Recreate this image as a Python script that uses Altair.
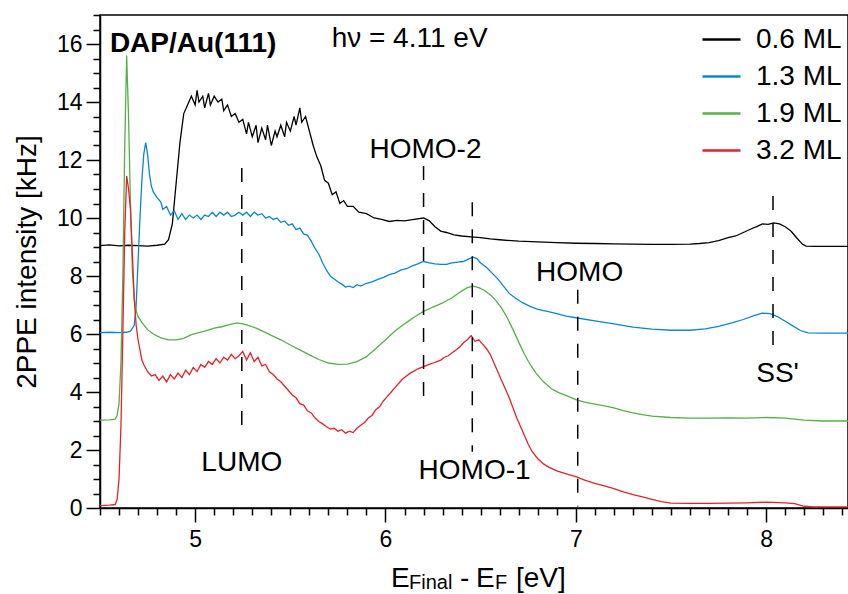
import altair as alt
import pandas as pd

# ---------------- data ----------------
series_names = ["0.6 ML", "1.3 ML", "1.9 ML", "3.2 ML"]
series_colors = ["#000000", "#0a87d0", "#55b048", "#e4222b"]

black_x = [4.50, 4.55, 4.60, 4.65, 4.70, 4.75, 4.80, 4.84, 4.86, 4.88, 4.90, 4.92, 4.94, 4.96, 4.98,
           5.00, 5.01, 5.02, 5.04, 5.05, 5.07, 5.08, 5.10, 5.12, 5.14, 5.15, 5.17, 5.19, 5.21, 5.23,
           5.25, 5.27, 5.28, 5.30, 5.32, 5.33, 5.35, 5.37, 5.38, 5.40, 5.42, 5.43, 5.45, 5.47, 5.48,
           5.50, 5.52, 5.53, 5.55, 5.56, 5.58, 5.60, 5.62, 5.64, 5.66, 5.68, 5.70, 5.72, 5.74, 5.76,
           5.78, 5.80, 5.83, 5.86, 5.90, 5.94, 5.98, 6.02, 6.06, 6.10, 6.15, 6.20, 6.23, 6.26, 6.29,
           6.32, 6.36, 6.40, 6.45, 6.50, 6.55, 6.60, 6.70, 6.80, 6.90, 7.00, 7.10, 7.20, 7.30, 7.40,
           7.50, 7.60, 7.65, 7.70, 7.75, 7.80, 7.84, 7.88, 7.92, 7.95, 7.98, 8.01, 8.04, 8.07, 8.10,
           8.13, 8.16, 8.19, 8.21, 8.25, 8.30, 8.43]
black_y = [9.05, 9.07, 9.04, 9.06, 9.05, 9.03, 9.06, 9.10, 9.25, 9.8, 11.2, 12.6, 13.6, 13.9, 14.2,
           13.9, 14.4, 14.0, 14.2, 13.8, 14.3, 13.9, 14.2, 14.0, 14.1, 13.7, 13.9, 13.5, 13.6, 13.3,
           13.4, 12.9, 13.3, 12.8, 13.2, 12.6, 13.1, 12.7, 13.2, 12.5, 13.0, 12.8, 13.2, 12.8, 13.3,
           13.0, 13.5, 13.2, 13.8, 13.3, 13.5, 13.0, 12.5, 12.1, 11.8, 11.3, 11.2, 10.8, 10.9, 10.5,
           10.6, 10.4, 10.4, 10.2, 10.15, 10.0, 9.95, 9.88, 9.92, 9.9, 9.95, 10.0, 9.9, 9.7, 9.55,
           9.5, 9.42, 9.38, 9.35, 9.32, 9.28, 9.25, 9.2, 9.18, 9.15, 9.13, 9.12, 9.11, 9.1, 9.09,
           9.09, 9.1, 9.12, 9.15, 9.22, 9.32, 9.38, 9.5, 9.62, 9.7, 9.8, 9.78, 9.83, 9.8, 9.7,
           9.55, 9.32, 9.1, 9.03, 9.02, 9.02, 9.02]

blue_x = [4.50, 4.55, 4.60, 4.64, 4.66, 4.68, 4.69, 4.70, 4.71, 4.72, 4.73, 4.74, 4.75, 4.76, 4.77,
          4.78, 4.80, 4.82, 4.83, 4.85, 4.87, 4.89, 4.91, 4.93, 4.95, 4.97, 4.99, 5.01, 5.03, 5.05,
          5.07, 5.09, 5.11, 5.13, 5.15, 5.17, 5.19, 5.21, 5.23, 5.25, 5.27, 5.29, 5.31, 5.33, 5.35,
          5.37, 5.39, 5.41, 5.43, 5.45, 5.47, 5.49, 5.51, 5.53, 5.55, 5.57, 5.59, 5.61, 5.63, 5.65,
          5.67, 5.69, 5.71, 5.73, 5.75, 5.77, 5.79, 5.81, 5.83, 5.85, 5.87, 5.90, 5.93, 5.96, 5.99,
          6.02, 6.05, 6.08, 6.11, 6.14, 6.17, 6.20, 6.23, 6.26, 6.29, 6.32, 6.35, 6.38, 6.41, 6.44,
          6.46, 6.48, 6.50, 6.53, 6.56, 6.59, 6.62, 6.65, 6.68, 6.72, 6.76, 6.80, 6.85, 6.90, 6.95,
          7.00, 7.10, 7.20, 7.30, 7.40, 7.50, 7.60, 7.68, 7.75, 7.82, 7.88, 7.94, 7.98, 8.02, 8.06,
          8.10, 8.14, 8.18, 8.22, 8.30, 8.43]
blue_y = [6.05, 6.06, 6.05, 6.06, 6.1, 6.3, 7.0, 8.5, 10.0, 11.3, 12.2, 12.6, 12.2, 11.5, 11.1,
          10.9, 10.7, 10.55, 10.3, 10.4, 10.1, 10.25, 9.95, 10.15, 9.95, 10.1, 10.0, 10.1, 9.95, 10.1,
          10.05, 10.2, 10.05, 10.2, 10.1, 10.2, 10.05, 10.1, 10.2, 10.1, 10.2, 10.05, 10.2, 10.1, 10.15,
          10.0, 10.05, 9.95, 10.0, 9.85, 9.9, 9.75, 9.8, 9.6, 9.65, 9.45, 9.4, 9.2, 8.95, 8.75,
          8.45, 8.2, 8.0, 7.9, 7.8, 7.72, 7.62, 7.65, 7.6, 7.7, 7.65, 7.75, 7.8, 7.88, 7.95,
          8.05, 8.1, 8.2, 8.25, 8.35, 8.42, 8.5, 8.45, 8.42, 8.4, 8.4, 8.45, 8.48, 8.5, 8.6,
          8.65, 8.6, 8.45, 8.3, 8.1, 7.9, 7.65, 7.4, 7.25, 7.08, 6.95, 6.85, 6.78, 6.7, 6.62,
          6.56, 6.45, 6.35, 6.24, 6.17, 6.13, 6.13, 6.18, 6.26, 6.38, 6.5, 6.64, 6.72, 6.7, 6.6,
          6.44, 6.28, 6.12, 6.04, 6.03, 6.03]

green_x = [4.50, 4.55, 4.58, 4.59, 4.60, 4.61, 4.62, 4.63, 4.64, 4.65, 4.66, 4.67, 4.68, 4.69, 4.70,
           4.72, 4.75, 4.78, 4.82, 4.86, 4.90, 4.94, 4.98, 5.02, 5.06, 5.10, 5.14, 5.18, 5.22, 5.25,
           5.28, 5.32, 5.36, 5.40, 5.45, 5.50, 5.55, 5.60, 5.65, 5.70, 5.75, 5.80, 5.85, 5.90, 5.95,
           6.00, 6.05, 6.10, 6.15, 6.20, 6.25, 6.30, 6.35, 6.40, 6.43, 6.46, 6.49, 6.52, 6.55, 6.58,
           6.61, 6.64, 6.67, 6.70, 6.73, 6.76, 6.79, 6.83, 6.87, 6.91, 6.96, 7.00, 7.05, 7.10, 7.15,
           7.20, 7.25, 7.30, 7.35, 7.40, 7.50, 7.60, 7.70, 7.80, 7.90, 8.00, 8.10, 8.20, 8.30, 8.43]
green_y = [3.03, 3.04, 3.06, 3.2, 3.6, 5.0, 8.0, 12.5, 15.6, 13.5, 10.5, 8.2, 7.2, 6.8, 6.6,
           6.4, 6.15, 6.0, 5.87, 5.8, 5.8, 5.85, 5.98, 6.05, 6.12, 6.2, 6.25, 6.32, 6.38, 6.35,
           6.3, 6.2, 6.08, 5.95, 5.8, 5.62, 5.45, 5.28, 5.12, 5.0, 4.95, 4.96, 5.05, 5.22, 5.5,
           5.8, 6.1, 6.35, 6.58, 6.78, 6.93, 7.07, 7.25, 7.48, 7.6, 7.65, 7.6, 7.5, 7.35, 7.15,
           6.9, 6.55, 6.15, 5.72, 5.3, 4.95, 4.66, 4.35, 4.12, 3.98, 3.85, 3.74, 3.64, 3.58, 3.52,
           3.45, 3.36, 3.28, 3.22, 3.17, 3.12, 3.1, 3.1, 3.11, 3.1, 3.12, 3.1, 3.03, 3.0, 3.0]

red_x = [4.50, 4.55, 4.58, 4.59, 4.60, 4.61, 4.62, 4.63, 4.64, 4.65, 4.66, 4.67, 4.68, 4.69, 4.70,
         4.71, 4.72, 4.73, 4.75, 4.77, 4.79, 4.81, 4.83, 4.85, 4.87, 4.89, 4.91, 4.93, 4.95, 4.97,
         4.99, 5.01, 5.03, 5.05, 5.07, 5.09, 5.11, 5.13, 5.15, 5.17, 5.19, 5.21, 5.23, 5.25, 5.27,
         5.29, 5.31, 5.33, 5.35, 5.37, 5.39, 5.41, 5.43, 5.45, 5.47, 5.49, 5.51, 5.53, 5.55, 5.57,
         5.59, 5.61, 5.63, 5.65, 5.67, 5.69, 5.71, 5.73, 5.75, 5.77, 5.79, 5.81, 5.83, 5.85, 5.87,
         5.89, 5.91, 5.93, 5.95, 5.97, 5.99, 6.01, 6.03, 6.05, 6.07, 6.09, 6.11, 6.13, 6.15, 6.17,
         6.19, 6.21, 6.23, 6.25, 6.27, 6.29, 6.31, 6.33, 6.35, 6.37, 6.39, 6.41, 6.43, 6.45, 6.47,
         6.49, 6.51, 6.53, 6.55, 6.57, 6.59, 6.61, 6.63, 6.65, 6.67, 6.69, 6.71, 6.73, 6.75, 6.77,
         6.80, 6.83, 6.86, 6.90, 6.95, 7.00, 7.05, 7.10, 7.15, 7.20, 7.25, 7.30, 7.35, 7.40, 7.45,
         7.50, 7.60, 7.70, 7.80, 7.90, 8.00, 8.10, 8.15, 8.20, 8.25, 8.43]
red_y = [0.08, 0.1, 0.12, 0.3, 1.0, 2.8, 6.0, 9.5, 11.45, 11.0, 10.3, 8.8, 7.2, 6.3, 5.8,
         5.45, 5.1, 4.95, 4.7, 4.55, 4.6, 4.4, 4.55, 4.35, 4.6, 4.45, 4.65, 4.5, 4.75, 4.6,
         4.85, 4.7, 4.95, 4.85, 5.05, 4.95, 5.15, 5.0, 5.2, 5.1, 5.3, 5.15, 5.25, 5.4, 5.1,
         5.35, 5.05, 5.2, 4.9, 4.95, 4.7, 4.6, 4.45, 4.35, 4.2, 4.05, 3.9, 3.8, 3.6, 3.55,
         3.35, 3.28, 3.1, 2.98, 2.9, 2.8, 2.72, 2.75, 2.65, 2.7, 2.58, 2.65, 2.6, 2.75, 2.85,
         2.95, 3.1, 3.2, 3.4, 3.5, 3.7, 3.85, 4.0, 4.15, 4.3, 4.45, 4.55, 4.65, 4.72, 4.8,
         4.85, 4.9, 4.95, 5.0, 5.05, 5.1, 5.2, 5.25, 5.35, 5.45, 5.55, 5.7, 5.8, 5.95, 5.75,
         5.8, 5.65, 5.5, 5.3, 5.0, 4.7, 4.4, 4.1, 3.8, 3.45, 3.1, 2.8, 2.5, 2.2, 1.95,
         1.7, 1.52, 1.4, 1.28, 1.18, 1.08, 0.95, 0.85, 0.76, 0.67, 0.56, 0.46, 0.38, 0.3, 0.22,
         0.17, 0.16, 0.16, 0.17, 0.18, 0.2, 0.18, 0.15, 0.06, 0.04, 0.04]

# marker (dashed) lines
marker_x = [5.245, 6.20, 6.456, 7.01, 8.036]
marker_top = [11.72, 11.79, 10.54, 7.53, 10.76]
marker_bottom = [2.42, 3.46, 1.94, 0.05, 5.46]

# state labels
label_text = ["LUMO", "HOMO-2", "HOMO-1", "HOMO", "SS'"]
label_x = [5.245, 6.21, 6.468, 7.02, 8.06]
label_y = [1.26, 12.06, 1.0, 7.82, 4.36]

# header texts
header_bold_text = ["DAP/Au(111)"]
header_bold_x = [4.552]
header_bold_y = [15.72]
header_text = ["h\u03bd = 4.11 eV"]
header_x = [5.717]
header_y = [15.88]

x_tick_values = [4.5, 4.6, 4.7, 4.8, 4.9, 5.0, 5.1, 5.2, 5.3, 5.4, 5.5, 5.6, 5.7, 5.8, 5.9,
                 6.0, 6.1, 6.2, 6.3, 6.4, 6.5, 6.6, 6.7, 6.8, 6.9, 7.0, 7.1, 7.2, 7.3, 7.4,
                 7.5, 7.6, 7.7, 7.8, 7.9, 8.0, 8.1, 8.2, 8.3, 8.4]
y_tick_values = [0, 0.5, 1, 1.5, 2, 2.5, 3, 3.5, 4, 4.5, 5, 5.5, 6, 6.5, 7, 7.5, 8, 8.5,
                 9, 9.5, 10, 10.5, 11, 11.5, 12, 12.5, 13, 13.5, 14, 14.5, 15, 15.5, 16, 16.5, 17]

FONT = "Liberation Sans"

# ---------------- build tables ----------------
rows = []
for name, xs, ys in zip(series_names,
                        [black_x, blue_x, green_x, red_x],
                        [black_y, blue_y, green_y, red_y]):
    for i, (a, b) in enumerate(zip(xs, ys)):
        rows.append({"series": name, "E": a, "I": b, "i": i})
df = pd.DataFrame(rows)

df_mark = pd.DataFrame({"x": marker_x, "y1": marker_top, "y2": marker_bottom})
df_lab = pd.DataFrame({"t": label_text, "x": label_x, "y": label_y})
df_headb = pd.DataFrame({"t": header_bold_text, "x": header_bold_x, "y": header_bold_y})
df_head = pd.DataFrame({"t": header_text, "x": header_x, "y": header_y})

is_major_x = "abs(datum.value - round(datum.value)) < 0.001"
is_major_y = "abs(datum.value / 2 - round(datum.value / 2)) < 0.001 && datum.value < 16.5"

x_scale = alt.Scale(domain=[4.5, 8.43], nice=False, zero=False)
y_scale = alt.Scale(domain=[0, 17], nice=False)

x_axis = alt.Axis(values=x_tick_values, tickCount=200, title=None, grid=False,
                  labelExpr=f"{is_major_x} ? format(datum.value, 'd') : ''",
                  tickSize={"condition": {"test": is_major_x, "value": 14}, "value": 7},
                  labelFontSize=23, labelFont=FONT, labelColor="black", labelPadding=6,
                  labelOverlap=False, labelFlush=False,
                  domainColor="black", domainWidth=1.5, tickColor="black", tickWidth=1.5)
y_axis = alt.Axis(values=y_tick_values, tickCount=200, grid=False,
                  labelExpr=f"{is_major_y} ? format(datum.value, 'd') : ''",
                  tickSize={"condition": {"test": is_major_y, "value": 14}, "value": 7},
                  labelFontSize=23, labelFont=FONT, labelColor="black", labelPadding=4,
                  labelOverlap=False, labelFlush=False,
                  domainColor="black", domainWidth=1.5, tickColor="black", tickWidth=1.5,
                  title="2PPE intensity [kHz]", titleFont=FONT, titleFontSize=28,
                  titleFontWeight="normal", titleColor="black", titleAngle=270,
                  titleX=-65, titleY=246.5, titleAlign="center", titleBaseline="alphabetic")

lines = alt.Chart(df).mark_line(strokeWidth=1.3, clip=True).encode(
    x=alt.X("E:Q", scale=x_scale, axis=x_axis),
    y=alt.Y("I:Q", scale=y_scale, axis=y_axis),
    color=alt.Color("series:N",
                    scale=alt.Scale(domain=series_names, range=series_colors),
                    legend=alt.Legend(orient="none", legendX=601, legendY=4, title=None,
                                      symbolType="stroke", symbolSize=1444,
                                      symbolStrokeWidth=2.5, labelFontSize=28, labelFont=FONT,
                                      labelColor="black", labelOffset=14, rowPadding=2,
                                      padding=0)),
    order="i:Q",
    detail="series:N",
)

markers = alt.Chart(df_mark).mark_rule(color="black", strokeWidth=1.5,
                                       strokeDash=[14, 13]).encode(
    x=alt.X("x:Q", scale=x_scale),
    y=alt.Y("y1:Q", scale=y_scale),
    y2="y2:Q",
)

labels = alt.Chart(df_lab).mark_text(font=FONT, fontSize=28, color="black",
                                     align="center", baseline="alphabetic").encode(
    x=alt.X("x:Q", scale=x_scale),
    y=alt.Y("y:Q", scale=y_scale),
    text="t:N",
)

heads_b = alt.Chart(df_headb).mark_text(font=FONT, fontSize=28, color="black",
                                        fontWeight="bold", align="left",
                                        baseline="alphabetic").encode(
    x=alt.X("x:Q", scale=x_scale),
    y=alt.Y("y:Q", scale=y_scale),
    text="t:N",
)
heads = alt.Chart(df_head).mark_text(font=FONT, fontSize=28, color="black",
                                     align="left", baseline="alphabetic").encode(
    x=alt.X("x:Q", scale=x_scale),
    y=alt.Y("y:Q", scale=y_scale),
    text="t:N",
)


# x-axis title with subscripts (pieces of text)
def piece(txt, px, py, size):
    return alt.Chart(pd.DataFrame({"a": [0]})).mark_text(
        text=txt, font=FONT, fontSize=size, color="black", align="left",
        baseline="alphabetic").encode(x=alt.value(px), y=alt.value(py))


xt = [piece("E", 291, 572, 28), piece("Final", 309, 574, 20), piece("-", 360, 572, 28),
      piece("E", 376, 572, 28), piece("F", 395, 574, 20), piece("[eV]", 416, 572, 28)]

chart = alt.layer(lines, markers, labels, heads_b, heads, *xt).properties(
    width=748, height=493,
    autosize=alt.AutoSizeParams(type="none"),
    padding={"left": 100, "top": 15, "right": 0, "bottom": 86},
    background="white",
).configure_view(stroke="black", strokeWidth=1.5)

chart.save("out.html", embed_options={"renderer": "svg", "actions": False})
